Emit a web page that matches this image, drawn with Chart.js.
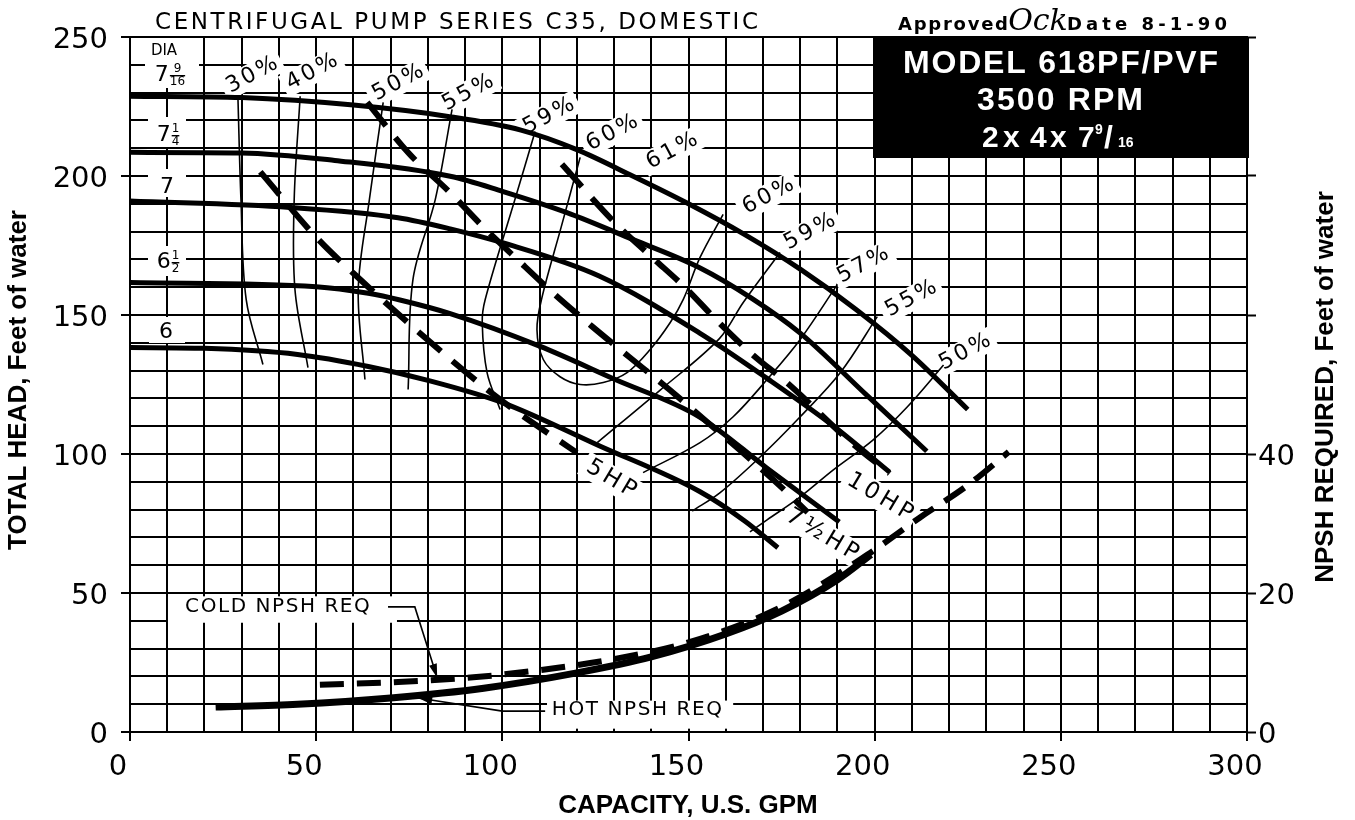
<!DOCTYPE html>
<html><head><meta charset="utf-8">
<script src="https://cdn.jsdelivr.net/npm/chart.js@4.4.1/dist/chart.umd.min.js"></script>
<style>html,body{margin:0;padding:0;background:#fff;}canvas{display:block;}</style>
</head><body>
<canvas id="c" width="1355" height="820"></canvas>
<script>
// ---------- tick labels ----------
const xLabeled = [0, 50, 100, 150, 200, 250, 300];
const headLabeled = [0, 50, 100, 150, 200, 250];
const npshLabeled = [0, 20, 40];
const npshTickMarks = [0, 20, 40, 60, 80, 100];

// ---------- impeller curves (GPM, head ft) ----------
const d7_9_16_q = [0, 30, 60, 85, 105, 120, 135, 150, 165, 180, 195, 210, 225];
const d7_9_16_h = [228.7, 228.2, 225.5, 221.5, 216.5, 209.5, 200, 190, 179, 166.5, 152, 135.5, 116];
const d7_1_4_q = [0, 30, 55, 86, 100, 117, 135, 153, 167, 180, 198, 214];
const d7_1_4_h = [208.5, 208.3, 205.6, 199.9, 194.5, 187, 177.2, 167, 156, 143.5, 121, 101];
const d7_q = [0, 43, 72, 86, 100, 126, 153, 171, 189, 204];
const d7_h = [191, 188.7, 185, 181, 176, 164, 143.5, 127.3, 110, 93.5];
const d6_1_2_q = [0, 50, 64, 72.5, 86, 110, 130, 153, 171, 190.5];
const d6_1_2_h = [161.7, 160.2, 157.8, 155.4, 150.5, 138.8, 127, 113.3, 95, 75.5];
const d6_q = [0, 20, 45, 64, 80, 100, 126, 153, 165, 174];
const d6_h = [138.3, 138, 135.8, 131.5, 126.5, 118.5, 103, 86.5, 76, 66.3];

// ---------- efficiency contours ----------
const e30_q = [29, 29.8, 31.2, 35.7];
const e30_h = [227.6, 191.6, 155.6, 132.2];
const e40_q = [45.7, 44.1, 44.3, 47.8];
const e40_h = [228.7, 191.6, 159.2, 131.1];
const e50_q = [68, 64.3, 61.3, 63.1];
const e50_h = [226.5, 191.6, 159.2, 126.8];
const e55_q = [86.5, 82, 76, 74.7];
const e55_h = [224, 191.6, 162.8, 123.2];
const e59L_q = [108.8, 103.4, 95.4, 94.6, 95.9, 99.4];
const e59L_h = [216, 191.6, 155.6, 147.3, 129.3, 116];
const e60_q = [120.9, 115.8, 110.7, 109.3, 111, 115.5, 120.9, 127.1, 133.5, 139.7, 145.1, 148.6, 153.1, 159.3];
const e60_h = [206.7, 181.6, 156.6, 144.8, 134, 127.8, 125, 125.7, 129.3, 137.6, 147.3, 155.6, 170.7, 186.2];
const e59R_q = [174.6, 164.7, 158.3, 142.4, 125.5];
const e59R_h = [172.5, 154.5, 141.5, 123, 104.1];
const e57_q = [190, 180, 171.1, 162, 153.1, 137.8];
const e57_h = [161, 141.2, 126.8, 113.4, 104.1, 93.3];
const e55R_q = [200.7, 190.8, 180, 169.3, 158.5, 151];
const e55R_h = [149.4, 129.3, 113.4, 99, 86.1, 79.5];
const e50R_q = [218.5, 208.8, 199.6, 188.9, 180, 171.1, 166.5];
const e50R_h = [132, 117, 105.1, 94.3, 84.6, 76.3, 72];

// ---------- horsepower lines ----------
const hp5_q = [35, 50, 60, 80, 100, 120];
const hp5_h = [201.5, 178, 165, 141, 119, 100.5];
const hp75_q = [63.7, 75, 86, 95, 104, 114, 124, 134, 145, 155, 165, 175, 182];
const hp75_h = [226.5, 208, 194, 181.5, 170, 157.5, 146, 135, 123, 111.5, 100, 88, 79];
const hp10_q = [116, 130, 140, 149, 158, 167, 177, 193, 204];
const hp10_h = [204.2, 183.5, 171, 160, 147.5, 136, 125, 105, 93];

// ---------- NPSH required (right axis) ----------
const npshHot_q = [23, 45, 70, 95, 120, 140, 160, 175, 190, 199];
const npshHot_v = [3.6, 4.0, 4.9, 6.3, 8.5, 10.8, 14.1, 17.4, 21.9, 25.5];
const npshCold_q = [51, 72, 93, 110, 130, 150, 175, 198, 212, 225, 236];
const npshCold_v = [6.8, 7.2, 7.9, 8.9, 10.5, 12.9, 18.0, 25.5, 30.8, 35.5, 40.3];

// ---------- label texts ----------
const effLabelText = ['30%', '40%', '50%', '55%', '59%', '60%', '61%', '60%', '59%', '57%', '55%', '50%'];
const hpLabelText = ['5HP', '10HP', '7½HP'];
const titleText = 'CENTRIFUGAL PUMP SERIES C35, DOMESTIC';

// ---------- label placement (annotation layout, data coords) ----------
const effLabelQ = [32.8, 48.9, 72.0, 90.8, 112.5, 129.5, 145.6, 171.4, 182.6, 196.9, 209.8, 224.3];
const effLabelH = [236.3, 237.4, 233.5, 229.9, 221.6, 215.5, 209.0, 192.8, 179.9, 168.0, 155.8, 136.7];
const hpLabelQ = [129.2, 201.4, 185.9];
const hpLabelH = [91.0, 84.5, 70.9];
const coldLeaderQ = [69.3, 76.5, 82.5], coldLeaderH = [45, 45, 19.5];
const hotLeaderQ = [111.5, 100, 77.4], hotLeaderH = [7.5, 7.5, 12.2];

const pts = (xs, ys) => xs.map((x, i) => ({x: x, y: ys[i]}));
const CAD = '"DejaVu Sans"';

function solid(data, w) { return {data, borderColor:'#000', borderWidth:w, pointRadius:0, fill:false, cubicInterpolationMode:'monotone'}; }
function contour(data) { return {data, borderColor:'#000', borderWidth:1.6, pointRadius:0, fill:false, tension:0.35}; }
function dashed(data, w, dash) { return {data, borderColor:'#000', borderWidth:w, pointRadius:0, fill:false, cubicInterpolationMode:'monotone', borderDash:dash}; }

const datasets = [
  solid(pts(d7_9_16_q, d7_9_16_h), 5),
  solid(pts(d7_1_4_q, d7_1_4_h), 5),
  solid(pts(d7_q, d7_h), 5),
  solid(pts(d6_1_2_q, d6_1_2_h), 5),
  solid(pts(d6_q, d6_h), 5),
  contour(pts(e30_q, e30_h)), contour(pts(e40_q, e40_h)), contour(pts(e50_q, e50_h)),
  contour(pts(e55_q, e55_h)), contour(pts(e59L_q, e59L_h)), contour(pts(e60_q, e60_h)),
  contour(pts(e59R_q, e59R_h)), contour(pts(e57_q, e57_h)), contour(pts(e55R_q, e55R_h)),
  contour(pts(e50R_q, e50R_h)),
  dashed(pts(hp5_q, hp5_h), 6, [30, 15]),
  dashed(pts(hp75_q, hp75_h), 6, [30, 15]),
  dashed(pts(hp10_q, hp10_h), 6, [30, 15]),
  Object.assign(solid(pts(npshHot_q, npshHot_v), 7), {yAxisID:'y2'}),
  Object.assign(dashed(pts(npshCold_q, npshCold_v), 6, [24, 13]), {yAxisID:'y2'})
];

// ---------- drawing helpers ----------
function spacedWidth(ctx, t, sp) { let w = 0; const c = [...t]; c.forEach(ch => w += ctx.measureText(ch).width); return w + sp * (c.length - 1); }
function drawSpaced(ctx, t, x, y, sp, align) {
  const c = [...t]; const tot = spacedWidth(ctx, t, sp);
  let cx = align === 'center' ? x - tot / 2 : (align === 'right' ? x - tot : x);
  ctx.textAlign = 'left';
  c.forEach(ch => { ctx.fillText(ch, cx, y); cx += ctx.measureText(ch).width + sp; });
}
function drawFit(ctx, t, x0, x1, y) {
  const c = [...t]; let w = 0; c.forEach(ch => w += ctx.measureText(ch).width);
  const sp = (x1 - x0 - w) / (c.length - 1); drawSpaced(ctx, t, x0, y, sp, 'left');
}
function rotRect(ctx, cx, cy, w, h, deg) { ctx.save(); ctx.translate(cx, cy); ctx.rotate(deg * Math.PI / 180); ctx.fillRect(-w / 2, -h / 2, w, h); ctx.restore(); }
function rotText(ctx, t, cx, cy, deg, sp) { ctx.save(); ctx.translate(cx, cy); ctx.rotate(deg * Math.PI / 180); ctx.textBaseline = 'middle'; drawSpaced(ctx, t, 0, 0, sp, 'center'); ctx.restore(); }
function arrowHead(ctx, x0, y0, x1, y1, len, half) {
  const a = Math.atan2(y1 - y0, x1 - x0);
  ctx.beginPath(); ctx.moveTo(x1, y1);
  ctx.lineTo(x1 - len * Math.cos(a) + half * Math.sin(a), y1 - len * Math.sin(a) - half * Math.cos(a));
  ctx.lineTo(x1 - len * Math.cos(a) - half * Math.sin(a), y1 - len * Math.sin(a) + half * Math.cos(a));
  ctx.closePath(); ctx.fill();
}
function drawMixed(ctx, cx, cy, whole, num, den) {
  ctx.save(); ctx.fillStyle = '#000'; ctx.textBaseline = 'middle';
  ctx.font = '22px ' + CAD; const ww = ctx.measureText(whole).width;
  let fw = 0;
  if (num) { ctx.font = '12px ' + CAD; fw = Math.max(ctx.measureText(num).width, ctx.measureText(den).width); }
  const tot = ww + (num ? fw + 1 : 0); const x = cx - tot / 2;
  ctx.font = '22px ' + CAD; ctx.textAlign = 'left'; ctx.fillText(whole, x, cy + 1);
  if (num) {
    ctx.font = '12px ' + CAD; ctx.textAlign = 'center'; const fx = x + ww + 1 + fw / 2;
    ctx.fillText(num, fx, cy - 5); ctx.fillText(den, fx, cy + 8);
    ctx.fillRect(fx - fw / 2, cy + 1, fw, 1.4);
  }
  ctx.restore();
}

const EFF_FONT = '22px ' + CAD, EFF_SP = 3, EFF_ANG = -28;
const HP_FONT = '23px ' + CAD, HP_SP = 4, HP_ANG = 31;
const diaBoxes = [[172, 63, 54, 50], [167, 132, 38, 30], [167, 183, 38, 28], [167, 261, 38, 30], [167, 330, 36, 26]];

const annot = {
  id: 'annot',
  beforeDatasetsDraw(chart) {
    const ctx = chart.ctx, sx = chart.scales.x, sy = chart.scales.y;
    ctx.save(); ctx.fillStyle = '#fff';
    ctx.font = EFF_FONT;
    effLabelText.forEach((t, i) => {
      const w = spacedWidth(ctx, t, EFF_SP) + 10;
      rotRect(ctx, sx.getPixelForValue(effLabelQ[i]), sy.getPixelForValue(effLabelH[i]), w, 24, EFF_ANG);
    });
    ctx.font = HP_FONT;
    hpLabelText.forEach((t, i) => {
      const w = spacedWidth(ctx, t, HP_SP) + 10;
      rotRect(ctx, sx.getPixelForValue(hpLabelQ[i]), sy.getPixelForValue(hpLabelH[i]), w, 26, HP_ANG);
    });
    diaBoxes.forEach(b => ctx.fillRect(b[0] - b[2] / 2, b[1] - b[3] / 2, b[2], b[3]));
    ctx.fillRect(sx.getPixelForValue(10.2), sy.getPixelForValue(48.8), sx.getPixelForValue(71.7) - sx.getPixelForValue(10.2), sy.getPixelForValue(39.3) - sy.getPixelForValue(48.8));
    ctx.fillRect(sx.getPixelForValue(112), sy.getPixelForValue(11.3), sx.getPixelForValue(162) - sx.getPixelForValue(112), sy.getPixelForValue(1.2) - sy.getPixelForValue(11.3));
    ctx.restore();
  },
  afterDatasetsDraw(chart) {
    const ctx = chart.ctx, sx = chart.scales.x, sy = chart.scales.y;
    ctx.save(); ctx.fillStyle = '#000'; ctx.strokeStyle = '#000';
    ctx.font = EFF_FONT;
    effLabelText.forEach((t, i) => rotText(ctx, t, sx.getPixelForValue(effLabelQ[i]), sy.getPixelForValue(effLabelH[i]), EFF_ANG, EFF_SP));
    ctx.font = HP_FONT;
    hpLabelText.forEach((t, i) => rotText(ctx, t, sx.getPixelForValue(hpLabelQ[i]), sy.getPixelForValue(hpLabelH[i]), HP_ANG, HP_SP));
    ctx.font = '15px ' + CAD; ctx.textBaseline = 'middle'; ctx.textAlign = 'center';
    ctx.fillText('DIA', 164, 51);
    drawMixed(ctx, 170, 74, '7', '9', '16');
    drawMixed(ctx, 168, 134, '7', '1', '4');
    drawMixed(ctx, 167, 186, '7');
    drawMixed(ctx, 168, 261, '6', '1', '2');
    drawMixed(ctx, 166, 331, '6');
    ctx.font = '20px ' + CAD; ctx.textBaseline = 'middle';
    drawFit(ctx, 'COLD NPSH REQ', sx.getPixelForValue(14.8), sx.getPixelForValue(64.4), sy.getPixelForValue(45));
    drawFit(ctx, 'HOT NPSH REQ', sx.getPixelForValue(113.3), sx.getPixelForValue(159), sy.getPixelForValue(7.9));
    ctx.lineWidth = 1.6;
    [[coldLeaderQ, coldLeaderH], [hotLeaderQ, hotLeaderH]].forEach(([q, h]) => {
      const px = q.map(v => sx.getPixelForValue(v)), py = h.map(v => sy.getPixelForValue(v));
      ctx.beginPath(); ctx.moveTo(px[0], py[0]); for (let i = 1; i < px.length; i++) ctx.lineTo(px[i], py[i]); ctx.stroke();
      arrowHead(ctx, px[px.length - 2], py[py.length - 2], px[px.length - 1], py[py.length - 1], 14, 4);
    });
    // model box
    ctx.fillStyle = '#000'; ctx.fillRect(873, 37, 376, 121);
    ctx.fillStyle = '#fff'; ctx.textBaseline = 'alphabetic';
    ctx.font = 'bold 32px "Liberation Sans"';
    drawFit(ctx, 'MODEL 618PF/PVF', 903, 1218, 73);
    drawFit(ctx, '3500 RPM', 977, 1143, 110);
    ctx.font = 'bold 30px "Liberation Sans"'; ctx.textAlign = 'left';
    ctx.fillText('2', 982, 147); ctx.fillText('x', 1003, 147); ctx.fillText('4', 1030, 147);
    ctx.fillText('x', 1050, 147); ctx.fillText('7', 1078, 147);
    ctx.font = 'bold 32px "Liberation Sans"'; ctx.fillText('/', 1104, 148);
    ctx.font = 'bold 14px "Liberation Sans"'; ctx.fillText('9', 1095, 134);
    ctx.fillText('16', 1118, 147);
    ctx.restore();
  },
  afterDraw(chart) {
    const ctx = chart.ctx;
    ctx.save(); ctx.fillStyle = '#000'; ctx.textBaseline = 'alphabetic';
    ctx.font = '23px ' + CAD; drawFit(ctx, titleText, 155, 758, 29);
    ctx.font = 'bold 18px ' + CAD; drawFit(ctx, 'Approved', 898, 1008, 30);
    drawFit(ctx, 'Date 8-1-90', 1067, 1227, 30);
    ctx.font = 'italic 30px "DejaVu Serif"'; ctx.textAlign = 'center'; ctx.fillText('Ock', 1038, 30);
    ctx.font = 'bold 26px "Liberation Sans"'; ctx.textAlign = 'center'; ctx.textBaseline = 'middle';
    ctx.fillText('CAPACITY, U.S. GPM', 688, 806);
    ctx.save(); ctx.translate(19, 380); ctx.rotate(-Math.PI / 2); ctx.fillText('TOTAL HEAD, Feet of water', 0, 0); ctx.restore();
    ctx.save(); ctx.translate(1326, 387); ctx.rotate(-Math.PI / 2); ctx.fillText('NPSH REQUIRED, Feet of water', 0, 0); ctx.restore();
    ctx.restore();
  }
};

const tickFont = {family: 'DejaVu Sans', size: 29};
const majorColor = (list) => (c) => (c.tick && list.includes(Math.round(c.tick.value))) ? '#000' : 'rgba(0,0,0,0)';

new Chart(document.getElementById('c'), {
  type: 'line',
  data: {datasets},
  plugins: [annot],
  options: {
    responsive: false, animation: false, events: [],
    layout: {padding: {top: 37, left: 0, right: 0, bottom: 0}},
    plugins: {legend: {display: false}, tooltip: {enabled: false}},
    scales: {
      x: {
        type: 'linear', min: 0, max: 300,
        afterFit: s => { s.height = 88; },
        ticks: {stepSize: 10, autoSkip: false, maxRotation: 0, color: '#000', font: tickFont, padding: 9, labelOffset: -12,
          callback: v => xLabeled.includes(Math.round(v)) ? String(Math.round(v)) : ''},
        grid: {color: '#000', lineWidth: 2, tickLength: 9, tickWidth: 2, tickColor: majorColor(xLabeled)},
        border: {display: true, color: '#000', width: 2}
      },
      y: {
        type: 'linear', position: 'left', min: 0, max: 250,
        afterFit: s => { s.width = 130; },
        ticks: {stepSize: 10, autoSkip: false, color: '#000', font: tickFont, padding: 13, labelOffset: 3,
          callback: v => headLabeled.includes(Math.round(v)) ? String(Math.round(v)) : ''},
        grid: {color: '#000', lineWidth: 2, tickLength: 9, tickWidth: 2, tickColor: majorColor(headLabeled)},
        border: {display: true, color: '#000', width: 2}
      },
      y2: {
        type: 'linear', position: 'right', min: 0, max: 100,
        afterFit: s => { s.width = 108; },
        ticks: {stepSize: 10, autoSkip: false, color: '#000', font: tickFont, padding: 2, labelOffset: 3,
          callback: v => npshLabeled.includes(Math.round(v)) ? String(Math.round(v)) : ''},
        grid: {drawOnChartArea: false, tickLength: 9, tickWidth: 2, tickColor: majorColor(npshTickMarks)},
        border: {display: true, color: '#000', width: 2}
      }
    }
  }
});
</script>
</body></html>
